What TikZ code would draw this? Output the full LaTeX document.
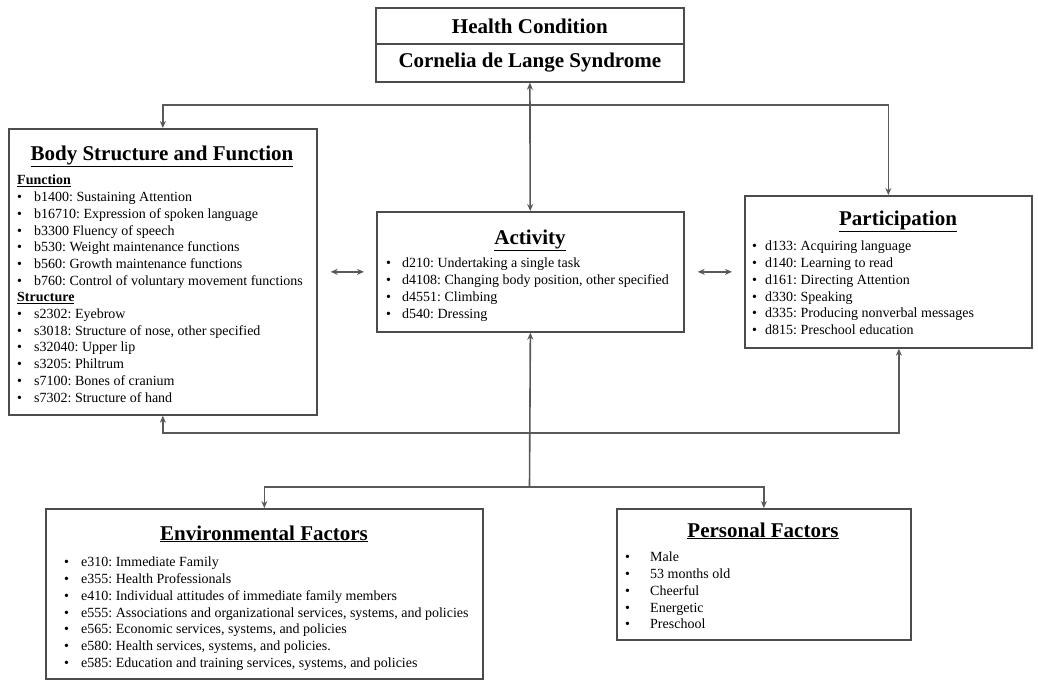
\documentclass[tikz,border=0pt]{standalone}
\usepackage{fontspec}
\setmainfont{Liberation Serif}
\usetikzlibrary{arrows.meta,positioning}
\frenchspacing

\newcommand{\bul}[1]{\makebox[#1][l]{\textbullet}}

\begin{document}
\begin{tikzpicture}[
    x=1pt, y=-1pt,
    box/.style={rectangle, draw=black!70, line width=1.7pt, anchor=north west, inner sep=0pt},
    title/.style={anchor=base, font=\fontsize{21}{24}\selectfont\bfseries, inner sep=0pt},
    items/.style={anchor=north west, align=left, font=\fontsize{14}{16.7}\selectfont, inner sep=0pt},
    link/.style={draw=black!65, line width=1.6pt, >={Stealth[length=7pt,width=6pt]}},
    dbl/.style={link, <->, shorten <=13pt, shorten >=12pt}
]
\useasboundingbox (0,0) rectangle (1038,680);

% Health Condition
\node [box, minimum width=308pt, minimum height=36pt, font=\fontsize{21}{24}\selectfont\bfseries] (hc1) at (375,7) {Health Condition};
\node [box, minimum width=308pt, minimum height=38pt, font=\fontsize{21}{24}\selectfont\bfseries] (hc2) at (375,43) {Cornelia de Lange Syndrome};

% Body Structure and Function
\node [box, minimum width=308pt, minimum height=286pt] (bsf) at (8,128) {};
\node [title] (bsft) at (162,160) {\underline{Body Structure and Function}};
\node [items] (bsfl) at (17,175) {\textbf{\underline{Function}}\\
    \bul{17pt}b1400: Sustaining Attention\\
    \bul{17pt}b16710: Expression of spoken language\\
    \bul{17pt}b3300 Fluency of speech\\
    \bul{17pt}b530: Weight maintenance functions\\
    \bul{17pt}b560: Growth maintenance functions\\
    \bul{17pt}b760: Control of voluntary movement functions\\
    \textbf{\underline{Structure}}\\
    \bul{17pt}s2302: Eyebrow\\
    \bul{17pt}s3018: Structure of nose, other specified\\
    \bul{17pt}s32040: Upper lip\\
    \bul{17pt}s3205: Philtrum\\
    \bul{17pt}s7100: Bones of cranium\\
    \bul{17pt}s7302: Structure of hand};

% Activity
\node [box, minimum width=307pt, minimum height=120pt] (act) at (376,211) {};
\node [title] (actt) at (530,244) {\underline{Activity}};
\node [items] (actl) at (386,258) {\bul{16pt}d210: Undertaking a single task\\
    \bul{16pt}d4108: Changing body position, other specified\\
    \bul{16pt}d4551: Climbing\\
    \bul{16pt}d540: Dressing};

% Participation
\node [box, minimum width=287pt, minimum height=152pt] (par) at (744,195) {};
\node [title] (part) at (898,225) {\underline{Participation}};
\node [items] (parl) at (752,241) {\bul{13pt}d133: Acquiring language\\
    \bul{13pt}d140: Learning to read\\
    \bul{13pt}d161: Directing Attention\\
    \bul{13pt}d330: Speaking\\
    \bul{13pt}d335: Producing nonverbal messages\\
    \bul{13pt}d815: Preschool education};

% Environmental Factors
\node [box, minimum width=437pt, minimum height=170pt] (env) at (45,508) {};
\node [title] (envt) at (264,540) {\underline{Environmental Factors}};
\node [items] (envl) at (64,557) {\bul{17pt}e310: Immediate Family\\
    \bul{17pt}e355: Health Professionals\\
    \bul{17pt}e410: Individual attitudes of immediate family members\\
    \bul{17pt}e555: Associations and organizational services, systems, and policies\\
    \bul{17pt}e565: Economic services, systems, and policies\\
    \bul{17pt}e580: Health services, systems, and policies.\\
    \bul{17pt}e585: Education and training services, systems, and policies};

% Personal Factors
\node [box, minimum width=294pt, minimum height=131pt] (per) at (616,508) {};
\node [title] (pert) at (763,537) {\underline{Personal Factors}};
\node [items] (perl) at (625,552) {\bul{25pt}Male\\
    \bul{25pt}53 months old\\
    \bul{25pt}Cheerful\\
    \bul{25pt}Energetic\\
    \bul{25pt}Preschool};

% Junctions
\coordinate (tj) at (529.5,105);
\coordinate (fj) at (529.5,433);
\coordinate (bj) at (529.5,487);
\coordinate (pb) at ([xshift=10.5pt]par.south);

% Arrows
\draw [link, <->] (hc2) -- (act);
\draw [link, <->] (bsf.north) |- (tj) -| (par.north);
\draw [link, <->] (bsf.south) |- (fj) -| (pb);
\draw [link, <-] (act.south) -- (bj);
\draw [link, <->] (env.north) |- (bj) -| (per.north);
\draw [dbl] (bsf) -- (act);
\draw [dbl] (act) -- (par);

\end{tikzpicture}
\end{document}
